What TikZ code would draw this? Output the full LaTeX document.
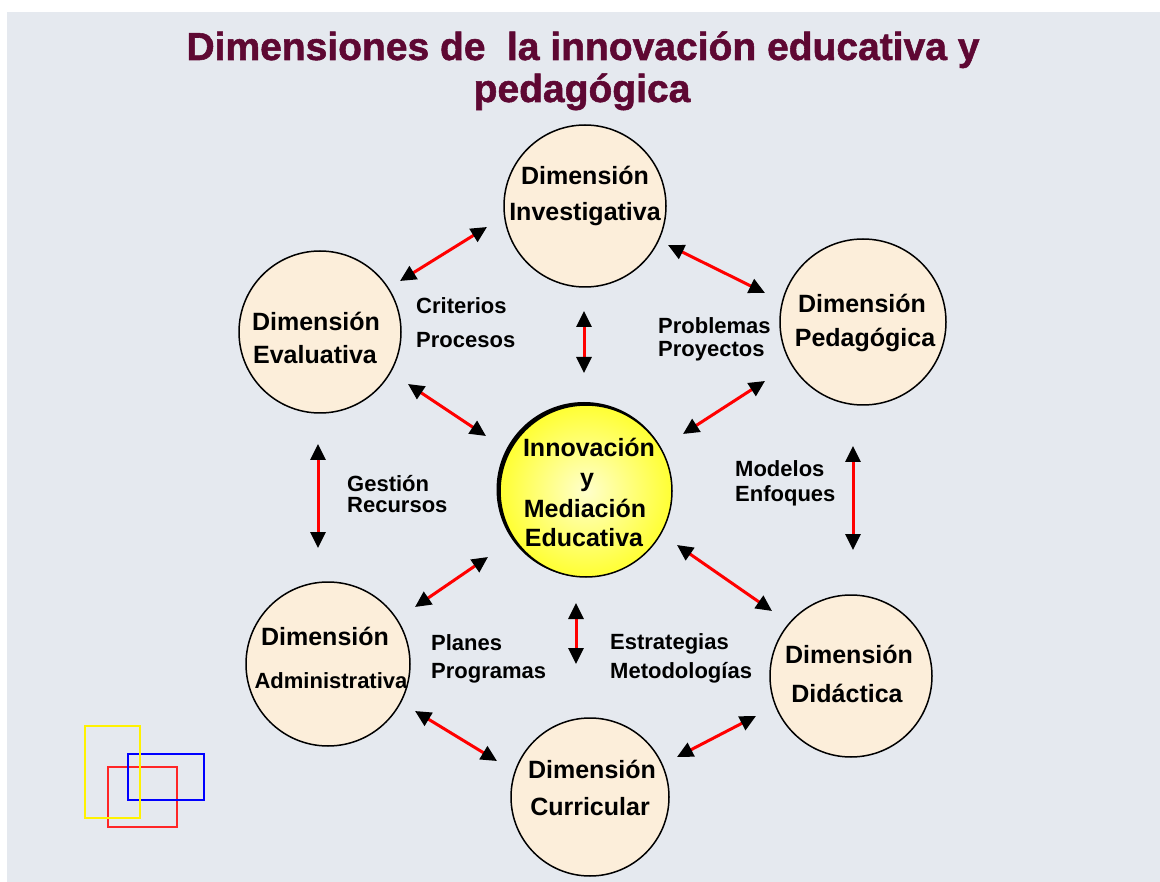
\documentclass[tikz,border=0pt]{standalone}
\usepackage{fontspec}
\setmainfont{Liberation Sans}
\newfontfamily\titlefont[FakeBold=1.4]{Liberation Sans Bold}
\usetikzlibrary{arrows.meta}

\definecolor{bg}{HTML}{E5E9EF}
\definecolor{cream}{HTML}{FCEEDA}
\definecolor{titlecol}{HTML}{5E0833}

\tikzset{
  dim/.style={circle, draw=black, line width=1.5pt, fill=cream, minimum size=#1, inner sep=0pt},
  txt/.style={font=\bfseries\fontsize{25}{30}\selectfont, anchor=base, inner sep=0pt},
  txts/.style={font=\bfseries\fontsize{22}{26}\selectfont, anchor=base, inner sep=0pt},
  lbl/.style={font=\bfseries\fontsize{22}{26}\selectfont, anchor=base west, inner sep=0pt},
  ttl/.style={font=\titlefont\fontsize{39}{44}\selectfont, anchor=base, inner sep=0pt, text=titlecol},
  link/.style={draw=red, line width=3pt,
    {Triangle[length=16pt,width=15pt,color=black]}-{Triangle[length=16pt,width=15pt,color=black]}},
  frame/.style={line width=1.6pt},
}

\begin{document}
\begin{tikzpicture}[x=1pt,y=-1pt]
\useasboundingbox (0,0) rectangle (1160,882);
\fill[white] (0,0) rectangle (1160,882);
\fill[bg] (7,12) rectangle (1160,882);

% title
\node[ttl] (t1) at (583,60) {Dimensiones de\hspace{0.55em}la innovación educativa y};
\node[ttl] (t2) at (582,102) {pedagógica};

% circles
\node[dim=162pt] (inv) at (585,206) {};
\node[dim=162pt] (eva) at (320,332) {};
\node[dim=166pt] (ped) at (863,322) {};
\node[dim=164pt] (adm) at (328,664) {};
\node[dim=162pt] (did) at (851,676) {};
\node[dim=158pt] (cur) at (590,797) {};
\fill[black] (584,489.5) circle (87.5);
\node[circle, draw=black, line width=1.5pt, inner color=yellow!20!white, outer color=yellow!80!white,
      minimum size=172pt, inner sep=0pt] (cen) at (586,491) {};

% circle texts
\node[txt] (inv1) at (585,185) {Dimensión};
\node[txt] (inv2) at (585,221) {Investigativa};
\node[txt] (eva1) at (316,331) {Dimensión};
\node[txt] (eva2) at (315,364) {Evaluativa};
\node[txt] (ped1) at (862,313) {Dimensión};
\node[txt] (ped2) at (865,347) {Pedagógica};
\node[txt] (cen1) at (589,457) {Innovación};
\node[txt] (cen2) at (587,487) {y};
\node[txt] (cen3) at (585,518) {Mediación};
\node[txt] (cen4) at (584,547) {Educativa};
\node[txt] (adm1) at (325,645) {Dimensión};
\node[txts] (adm2) at (331,688) {Administrativa};
\node[txt] (did1) at (849,663) {Dimensión};
\node[txt] (did2) at (847,702) {Didáctica};
\node[txt] (cur1) at (592,778) {Dimensión};
\node[txt] (cur2) at (590,815) {Curricular};

% labels
\node[lbl] (l1a) at (416,314) {Criterios};
\node[lbl] (l1b) at (416,348) {Procesos};
\node[lbl] (l2a) at (658,334) {Problemas};
\node[lbl] (l2b) at (658,357) {Proyectos};
\node[lbl] (l3a) at (735,477) {Modelos};
\node[lbl] (l3b) at (735,502) {Enfoques};
\node[lbl] (l4a) at (347,492) {Gestión};
\node[lbl] (l4b) at (347,512) {Recursos};
\node[lbl] (l5a) at (431,650) {Planes};
\node[lbl] (l5b) at (431,678) {Programas};
\node[lbl] (l6a) at (610,649) {Estrategias};
\node[lbl] (l6b) at (610,678) {Metodologías};

% connector end points
\coordinate (a1s) at (400,281);  \coordinate (a1e) at (487,227);
\coordinate (a2s) at (408,384);  \coordinate (a2e) at (486,436);
\coordinate (a3s) at (584,311);  \coordinate (a3e) at (584,373);
\coordinate (a4s) at (668,245);  \coordinate (a4e) at (765,293);
\coordinate (a5s) at (765,381);  \coordinate (a5e) at (683,434);
\coordinate (a6s) at (853,446);  \coordinate (a6e) at (853,550);
\coordinate (a7s) at (318,444);  \coordinate (a7e) at (318,548);
\coordinate (a8s) at (488,557);  \coordinate (a8e) at (415,607);
\coordinate (a9s) at (677,545);  \coordinate (a9e) at (772,611);
\coordinate (a10s) at (576,603); \coordinate (a10e) at (576,664);
\coordinate (a11s) at (415,711); \coordinate (a11e) at (497,761);
\coordinate (a12s) at (756,716); \coordinate (a12e) at (677,757);

\foreach \i in {1,...,12} {\draw[link] (a\i s) -- (a\i e);}

% decorative frames
\draw[frame, draw=red!85!white] (108,767) rectangle (177,827);
\draw[frame, draw=blue] (128,754) rectangle (204,800);
\draw[frame, draw=yellow] (84.7,726) rectangle (140,818);
\end{tikzpicture}
\end{document}
